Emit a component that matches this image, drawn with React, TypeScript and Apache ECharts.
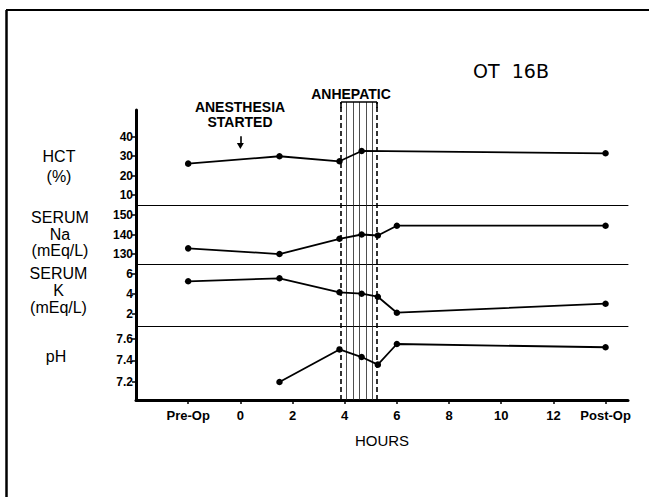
import React, { useEffect, useRef } from "react";
import * as echarts from "echarts";

// ---- data ----
const xTickValues = [-2, 0, 2, 4, 6, 8, 10, 12, 14];
const xTickLabels = ["Pre-Op", "0", "2", "4", "6", "8", "10", "12", "Post-Op"];

const hctHours = [-2, 1.5, 3.8, 4.65, 14];
const hctValues = [26.2, 30.0, 27.4, 32.7, 31.5];
const hctTicks = [10, 20, 30, 40];

const naHours = [-2, 1.5, 3.8, 4.65, 5.27, 6, 14];
const naValues = [132.9, 130.0, 137.8, 140.0, 139.5, 144.5, 144.5];
const naTicks = [130, 140, 150];

const kHours = [-2, 1.5, 3.8, 4.65, 5.27, 6, 14];
const kValues = [5.27, 5.57, 4.17, 4.03, 3.73, 2.13, 3.03];
const kTicks = [2, 4, 6];

const phHours = [1.5, 3.8, 4.65, 5.27, 6, 14];
const phValues = [7.2, 7.5, 7.43, 7.36, 7.55, 7.52];
const phTicks = [7.2, 7.4, 7.6];

const anhepaticStart = 3.86;
const anhepaticEnd = 5.24;
const hatchHours = [4.06, 4.31, 4.57, 4.82, 5.07];
const anesthesiaStartHour = 0;

const zip = (xs: number[], ys: number[]) => xs.map((x, i) => [x, ys[i]]);

const FONT = "Liberation Sans";
const X_MIN = -4;
const X_MAX = 14.86;
const LEFT = 136;
const RIGHT = 21;

export default function App() {
  const ref = useRef<HTMLDivElement>(null);
  useEffect(() => {
    if (!ref.current) return;
    const chart = echarts.init(ref.current, undefined, { renderer: "svg" });

    const grids = [
      { left: LEFT, right: RIGHT, top: 110, height: 95 },
      { left: LEFT, right: RIGHT, top: 205, height: 59 },
      { left: LEFT, right: RIGHT, top: 264, height: 62 },
      { left: LEFT, right: RIGHT, top: 326, height: 74 },
      { left: LEFT, right: RIGHT, top: 102, height: 298 },
    ];

    const hiddenX = (i: number) => ({
      type: "value",
      gridIndex: i,
      min: X_MIN,
      max: X_MAX,
      axisLine: { show: true, onZero: false, lineStyle: { color: "#000", width: 1 } },
      axisTick: { show: false },
      axisLabel: { show: false },
      splitLine: { show: false },
    });

    const yAx = (i: number, min: number, max: number, ticks: number[], fmt?: (v: number) => string) => ({
      type: "value",
      gridIndex: i,
      min,
      max,
      axisLine: { show: true, onZero: false, lineStyle: { color: "#000", width: 3 } },
      axisTick: { show: true, customValues: ticks, length: 4, lineStyle: { color: "#000", width: 1.5 } },
      axisLabel: {
        show: true,
        customValues: ticks,
        formatter: fmt ? (v: number) => fmt(v) : (v: number) => String(v),
        color: "#000",
        fontFamily: FONT,
        fontWeight: "bold",
        fontSize: 12,
        margin: 3,
      },
      splitLine: { show: false },
    });

    const lineSeries = (i: number, data: number[][]) => ({
      type: "line",
      xAxisIndex: i,
      yAxisIndex: i,
      data,
      symbol: "circle",
      symbolSize: 6.5,
      showSymbol: true,
      itemStyle: { color: "#000" },
      lineStyle: { color: "#000", width: 1.8 },
      z: 5,
      silent: true,
    });

    const markLineData: any[] = [];
    [anhepaticStart, anhepaticEnd].forEach((h) =>
      markLineData.push({ xAxis: h, lineStyle: { type: [5, 3], width: 1.6, color: "#000" } })
    );
    hatchHours.forEach((h) => markLineData.push({ xAxis: h, lineStyle: { type: "solid", width: 0.8, color: "#222" } }));
    markLineData.push([
      { coord: [anhepaticStart, 1], lineStyle: { type: "solid", width: 1.6, color: "#000" } },
      { coord: [anhepaticEnd, 1] },
    ]);
    [anhepaticStart, anhepaticEnd].forEach((h) =>
      markLineData.push([
        { coord: [h, 1], lineStyle: { type: "solid", width: 1.6, color: "#000" } },
        { coord: [h, 0.98] },
      ])
    );
    const arrowLine = [
      { coord: [anesthesiaStartHour, 0.885], lineStyle: { type: "solid", width: 1.6, color: "#000" }, symbol: "none" },
      { coord: [anesthesiaStartHour, 0.852], symbol: "triangle", symbolSize: [7, 6], symbolRotate: 180 },
    ];

    const option: any = {
      animation: false,
      backgroundColor: "#fff",
      grid: grids,
      xAxis: [
        hiddenX(0),
        hiddenX(1),
        hiddenX(2),
        {
          type: "value",
          gridIndex: 3,
          min: X_MIN,
          max: X_MAX,
          axisLine: { show: true, onZero: false, lineStyle: { color: "#000", width: 3 } },
          axisTick: { show: true, customValues: xTickValues, length: 4, lineStyle: { color: "#000", width: 1.5 } },
          axisLabel: {
            show: true,
            customValues: xTickValues,
            formatter: (v: number) => {
              const i = xTickValues.indexOf(v);
              return i >= 0 ? xTickLabels[i] : "";
            },
            color: "#000",
            fontFamily: FONT,
            fontWeight: "bold",
            fontSize: 13,
            margin: 9,
          },
          splitLine: { show: false },
          name: "HOURS",
          nameLocation: "middle",
          nameGap: 33,
          nameTextStyle: { color: "#000", fontFamily: FONT, fontSize: 15 },
        },
        { type: "value", gridIndex: 4, min: X_MIN, max: X_MAX, show: false },
      ],
      yAxis: [
        yAx(0, 5, 53.7, hctTicks),
        yAx(1, 124.9, 155.1, naTicks),
        yAx(2, 0.8, 7, kTicks),
        yAx(3, 7.034, 7.716, phTicks, (v) => v.toFixed(1)),
        { type: "value", gridIndex: 4, min: 0, max: 1, show: false },
      ],
      series: [
        {
          type: "line",
          xAxisIndex: 4,
          yAxisIndex: 4,
          data: [],
          silent: true,
          z: 1,
          markLine: {
            silent: true,
            symbol: ["none", "none"],
            label: { show: false },
            data: [...markLineData, arrowLine],
          },
        },
        lineSeries(0, zip(hctHours, hctValues)),
        lineSeries(1, zip(naHours, naValues)),
        lineSeries(2, zip(kHours, kValues)),
        lineSeries(3, zip(phHours, phValues)),
      ],
      graphic: [
        { type: "line", shape: { x1: 6, y1: 10, x2: 649, y2: 10 }, style: { stroke: "#000", lineWidth: 2 } },
        { type: "line", shape: { x1: 6.5, y1: 10, x2: 6.5, y2: 497 }, style: { stroke: "#000", lineWidth: 2.5 } },
        {
          type: "text",
          x: 511,
          y: 71,
          style: { text: "OT  16B", fontFamily: "DejaVu Sans", fontSize: 19, fill: "#000", align: "center", verticalAlign: "middle" },
        },
        {
          type: "text",
          x: 240,
          y: 114.5,
          style: {
            text: "ANESTHESIA\nSTARTED",
            fontFamily: FONT,
            fontWeight: "bold",
            fontSize: 14,
            lineHeight: 15,
            fill: "#000",
            align: "center",
            verticalAlign: "middle",
          },
        },
        {
          type: "text",
          x: 351,
          y: 94,
          style: { text: "ANHEPATIC", fontFamily: FONT, fontWeight: "bold", fontSize: 14, fill: "#000", align: "center", verticalAlign: "middle" },
        },
        {
          type: "text",
          x: 59,
          y: 166.5,
          style: { text: "HCT\n(%)", fontFamily: FONT, fontSize: 16, lineHeight: 19.5, fill: "#000", align: "center", verticalAlign: "middle" },
        },
        {
          type: "text",
          x: 60,
          y: 234,
          style: { text: "SERUM\nNa\n(mEq/L)", fontFamily: FONT, fontSize: 16, lineHeight: 16.5, fill: "#000", align: "center", verticalAlign: "middle" },
        },
        {
          type: "text",
          x: 58.5,
          y: 290.5,
          style: { text: "SERUM\nK\n(mEq/L)", fontFamily: FONT, fontSize: 16, lineHeight: 17, fill: "#000", align: "center", verticalAlign: "middle" },
        },
        {
          type: "text",
          x: 56,
          y: 356,
          style: { text: "pH", fontFamily: FONT, fontSize: 16, fill: "#000", align: "center", verticalAlign: "middle" },
        },
      ],
    };

    chart.setOption(option);
    return () => chart.dispose();
  }, []);

  return (
    <div
      ref={ref}
      style={{ position: "fixed", left: 0, top: 0, width: 649, height: 497, background: "#fff" }}
    />
  );
}
